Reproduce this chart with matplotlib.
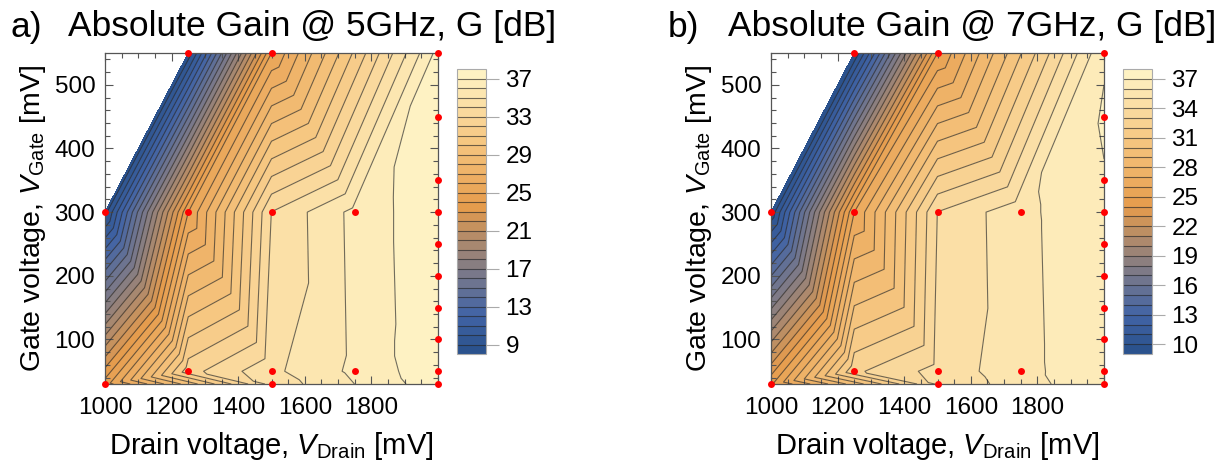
import numpy as np
import matplotlib
matplotlib.use("Agg")
import matplotlib.pyplot as plt
import matplotlib.tri as mtri
from matplotlib.colors import LinearSegmentedColormap, Normalize
from matplotlib.ticker import MultipleLocator, FixedLocator

plt.rcParams['font.family'] = ['Liberation Sans', 'DejaVu Sans']
plt.rcParams['mathtext.fontset'] = 'custom'
plt.rcParams['mathtext.rm'] = 'Liberation Sans'
plt.rcParams['mathtext.it'] = 'Liberation Sans:italic'

# Measurement grid (drain / gate bias points, mV)
drain_mv = [1000, 1000, 1250, 1250, 1250, 1500, 1500, 1500, 1500, 1750, 1750,
            2000, 2000, 2000, 2000, 2000, 2000, 2000, 2000, 2000, 2000]
gate_mv = [30, 300, 550, 300, 50, 550, 300, 50, 30, 300, 50,
           550, 450, 350, 300, 250, 200, 150, 100, 50, 30]

# Absolute gain at each bias point, dB
gain_5ghz = [24.5, 8.6, 8.3, 25.0, 32.6, 25.0, 34.02, 34.77, 34.39, 36.3, 36.22,
             37.35, 37.78, 37.81, 37.8, 37.8, 37.8, 37.85, 37.85, 37.7, 37.62]
gain_7ghz = [24.8, 9.2, 9.1, 26.0, 32.8, 25.0, 34.02, 34.36, 34.15, 35.7, 35.64,
             36.9, 37.1, 36.95, 36.95, 36.9, 36.9, 36.9, 36.9, 36.85, 36.86]

# Triangles (point indices) used for the piecewise-linear interpolation
mesh = [(0, 1, 4), (1, 3, 4), (1, 2, 3), (2, 3, 5), (3, 5, 6), (3, 6, 7),
        (3, 7, 4), (0, 4, 8), (4, 7, 8), (5, 6, 9), (5, 9, 11), (9, 11, 12),
        (9, 12, 13), (9, 13, 14), (6, 9, 10), (6, 10, 7), (7, 10, 8),
        (8, 10, 20), (10, 19, 20), (9, 14, 15), (9, 15, 16), (9, 16, 10),
        (10, 16, 17), (10, 17, 18), (10, 18, 19)]

x_ticks = [1000, 1200, 1400, 1600, 1800]
y_ticks = [100, 200, 300, 400, 500]
cbar_ticks_5 = [9, 13, 17, 21, 25, 29, 33, 37]
cbar_ticks_7 = [10, 13, 16, 19, 22, 25, 28, 31, 34, 37]

gradient = LinearSegmentedColormap.from_list("density", [
    (0.00, (40/255, 80/255, 138/255)),
    (0.14, (66/255, 100/255, 166/255)),
    (0.30, (128/255, 123/255, 134/255)),
    (0.52, (230/255, 156/255, 76/255)),
    (0.75, (246/255, 198/255, 128/255)),
    (1.00, (255/255, 245/255, 200/255)),
])

W, H = 1230, 474
fig = plt.figure(figsize=(W / 100, H / 100), dpi=100)


def px_axes(left, top, right, bottom):
    return fig.add_axes([left / W, 1 - bottom / H, (right - left) / W, (bottom - top) / H])


frame_col = '#555555'


def draw_panel(ax, cax, gain, cticks, letter, freq, title_x, letter_x):
    tri = mtri.Triangulation(drain_mv, gate_mv, triangles=mesh)
    lo = int(np.floor(min(gain)))
    hi = int(np.ceil(max(gain)))
    levels = np.arange(lo, hi + 1, 1.0)
    norm = Normalize(lo, hi)
    filled = ax.tricontourf(tri, gain, levels=levels, cmap=gradient, norm=norm)
    lines = ax.tricontour(tri, gain, levels=levels[1:-1], colors=[(0.15, 0.15, 0.15)],
                          linewidths=0.8, alpha=0.65)
    ax.plot(drain_mv, gate_mv, 'o', color='#ff0000', ms=5, mec='none',
            clip_on=False, zorder=5)
    ax.set_xlim(1000, 2000)
    ax.set_ylim(30, 550)
    ax.xaxis.set_major_locator(FixedLocator([1000, 1200, 1400, 1600, 1800, 2000]))
    ax.set_xticklabels([str(t) for t in x_ticks] + [''])
    ax.xaxis.set_minor_locator(MultipleLocator(50))
    ax.yaxis.set_major_locator(FixedLocator(y_ticks))
    ax.yaxis.set_minor_locator(MultipleLocator(20))
    ax.tick_params(which='both', direction='in', top=True, right=True,
                   color=frame_col, width=0.8, labelsize=17.5)
    ax.tick_params(which='major', length=6)
    ax.tick_params(which='minor', length=3.5)
    ax.tick_params(axis='x', pad=9)
    ax.tick_params(axis='y', pad=7)
    for s in ax.spines.values():
        s.set_color(frame_col)
        s.set_linewidth(0.9)
    ax.set_xlabel(r'Drain voltage, $V_{\mathrm{Drain}}$ [mV]', fontsize=21, labelpad=8)
    ax.set_ylabel(r'Gate voltage, $V_{\mathrm{Gate}}$ [mV]', fontsize=20.5, labelpad=5)

    cb = fig.colorbar(filled, cax=cax)
    cb.add_lines(lines)
    cb.set_ticks(cticks)
    cb.ax.tick_params(direction='out', length=9, width=0.8, color='#aaaaaa',
                      labelsize=17.5, pad=5)
    cb.outline.set_edgecolor('#aaaaaa')
    cb.outline.set_linewidth(0.8)

    fig.text(letter_x / W, 1 - 37 / H, letter, fontsize=25.5, ha='left', va='baseline')
    fig.text(title_x / W, 1 - 36 / H, f'Absolute Gain @ {freq}, G [dB]',
             fontsize=25.5, ha='left', va='baseline')


ax_a = px_axes(105, 53, 438, 384)
cax_a = px_axes(457, 69, 486, 354)
ax_b = px_axes(771, 53, 1104, 384)
cax_b = px_axes(1123, 69, 1152, 354)

draw_panel(ax_a, cax_a, gain_5ghz, cbar_ticks_5, 'a)', '5GHz', 68, 10)
draw_panel(ax_b, cax_b, gain_7ghz, cbar_ticks_7, 'b)', '7GHz', 728, 668)

fig.savefig('out.png', dpi=100)
